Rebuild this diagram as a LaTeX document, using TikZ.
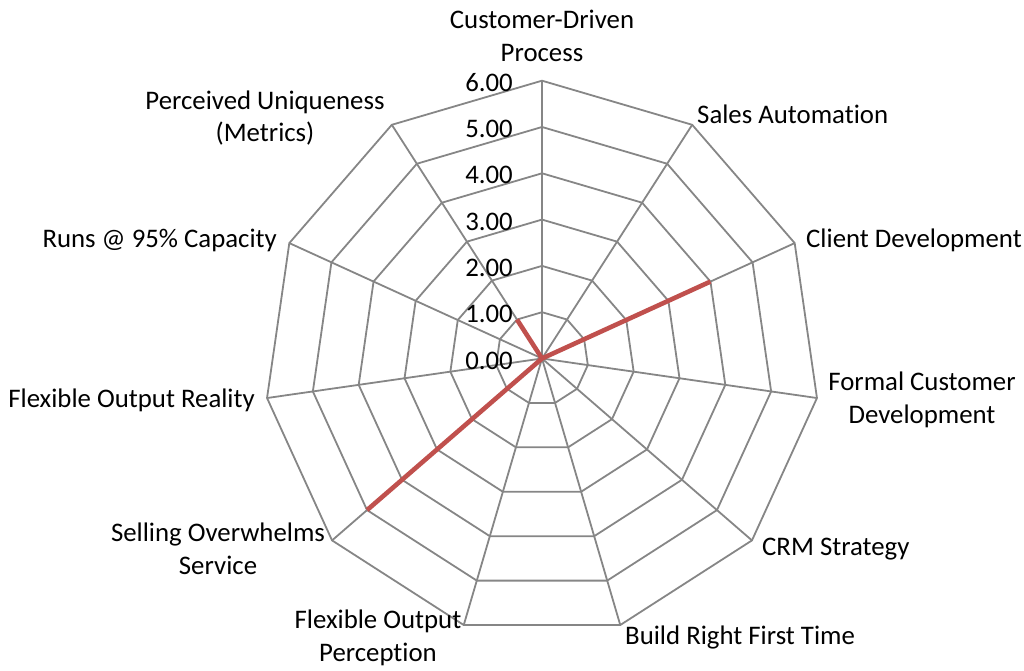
\documentclass[tikz,border=0pt]{standalone}
\usepackage{fontspec}
\setmainfont[Ligatures=NoCommon]{Carlito}
\usetikzlibrary{calc}
\definecolor{gridgray}{HTML}{868686}
\definecolor{datared}{HTML}{C0504D}
\begin{document}
\begin{tikzpicture}[x=1pt,y=1pt,
  gridline/.style={draw=gridgray, line width=1.8pt},
  dataline/.style={draw=datared, line width=4.6pt, line join=bevel, line cap=butt},
  lbl/.style={font=\fontsize{26.8}{32.5}\selectfont, inner sep=0pt, align=center},
  ticklbl/.style={font=\fontsize{26.8}{32.5}\selectfont, inner sep=0pt, anchor=east}]
\useasboundingbox (0,0) rectangle (1024,671);
\coordinate (O) at (542,312.5);
\foreach \i in {0,...,10}{
  \foreach \k in {1,...,6}{
    \coordinate (p\k-\i) at ($(O)+({90-\i*360/11}:{\k*46.3})$);
  }
}
% rings
\foreach \k in {1,...,6}{
  \draw[gridline] (p\k-0) \foreach \i in {1,...,10}{ -- (p\k-\i)} -- cycle;
}
% axes
\foreach \i in {0,...,10}{
  \draw[gridline] (O) -- (p6-\i);
}
% tick labels
\foreach \k/\t in {0/0.00,1/1.00,2/2.00,3/3.00,4/4.00,5/5.00,6/6.00}{
  \node[ticklbl] (t\k) at (513,{312.5+\k*46.3-2}) {\t};
}
% data
\draw[dataline] (O) -- (p4-2) -- (O) -- (p5-7) -- (O) -- (p1-10) -- cycle;
% category labels
\node[lbl] (l0) at (542,635) {Customer-Driven\\Process};
\node[lbl, anchor=west] (l1) at (697,557) {Sales Automation};
\node[lbl, anchor=west] (l2) at (806,431) {Client Development};
\node[lbl] (l3) at (922,271) {Formal Customer\\Development};
\node[lbl, anchor=west] (l4) at (762,122) {CRM Strategy};
\node[lbl, anchor=west] (l5) at (625,34) {Build Right First Time};
\node[lbl] (l6) at (378,33) {Flexible Output\\Perception};
\node[lbl] (l7) at (218,122) {Selling Overwhelms\\Service};
\node[lbl, anchor=east] (l8) at (255,271) {Flexible Output Reality};
\node[lbl, anchor=east] (l9) at (277,431) {Runs @ 95\% Capacity};
\node[lbl] (l10) at (265,553) {Perceived Uniqueness\\(Metrics)};
\end{tikzpicture}
\end{document}
